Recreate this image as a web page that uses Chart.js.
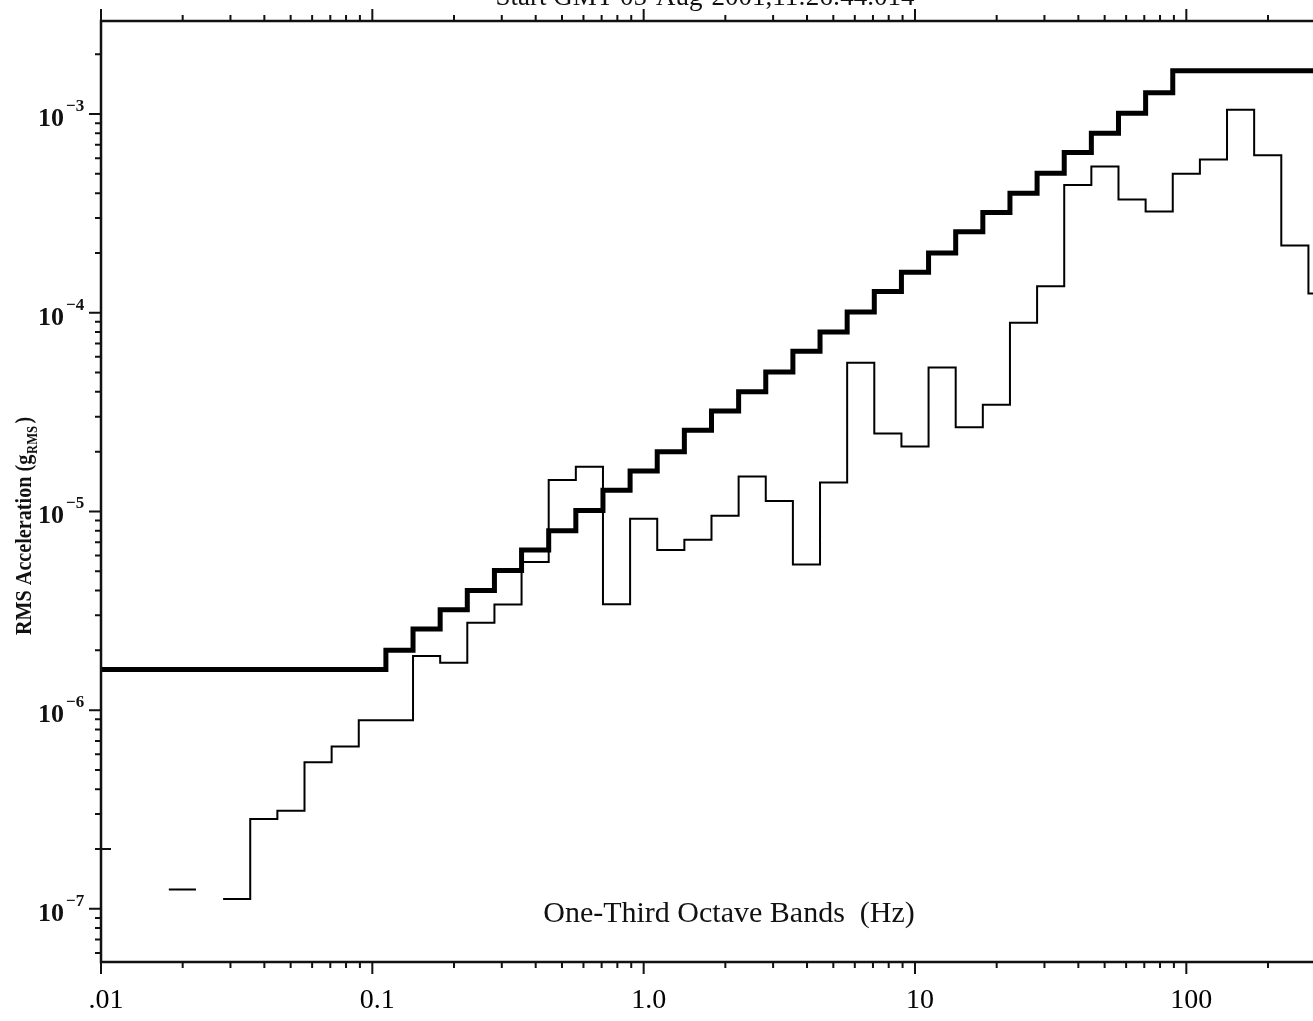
<!DOCTYPE html>
<html>
<head>
<meta charset="utf-8">
<title>RMS Acceleration - One-Third Octave Bands</title>
<script src="https://cdn.jsdelivr.net/npm/chart.js@4.4.1/dist/chart.umd.min.js"></script>
<style>
  html, body { margin: 0; padding: 0; background: #fff; }
  canvas { display: block; }
</style>
</head>
<body>
<canvas id="octaveChart" width="1313" height="1021"></canvas>
<script>
// one-third octave band centre frequencies (Hz)
const bandCenters = [
  0.01, 0.0125, 0.016, 0.02, 0.025, 0.0315, 0.04, 0.05, 0.063, 0.08,
  0.1, 0.125, 0.16, 0.2, 0.25, 0.315, 0.4, 0.5, 0.63, 0.8,
  1.0, 1.25, 1.6, 2.0, 2.5, 3.15, 4.0, 5.0, 6.3, 8.0,
  10, 12.5, 16, 20, 25, 31.5, 40, 50, 63, 80,
  100, 125, 160, 200, 250, 315
];

// requirement curve (thick line), g RMS
const requirement = [
  1.6e-6, 1.6e-6, 1.6e-6, 1.6e-6, 1.6e-6, 1.6e-6, 1.6e-6, 1.6e-6, 1.6e-6, 1.6e-6,
  1.6e-6, 2.0e-6, 2.56e-6, 3.2e-6, 4.0e-6, 5.04e-6, 6.4e-6, 8.0e-6, 1.01e-5, 1.28e-5,
  1.6e-5, 2.0e-5, 2.56e-5, 3.2e-5, 4.0e-5, 5.04e-5, 6.4e-5, 8.0e-5, 1.01e-4, 1.28e-4,
  1.6e-4, 2.0e-4, 2.56e-4, 3.2e-4, 4.0e-4, 5.04e-4, 6.4e-4, 8.0e-4, 1.01e-3, 1.28e-3,
  1.65e-3, 1.65e-3, 1.65e-3, 1.65e-3, 1.65e-3, 1.65e-3
];

// measured levels (thin line), null where no band value was plotted
const measured = [
  null, null, null, 1.25e-7, null, 1.12e-7, 2.83e-7, 3.12e-7, 5.47e-7, 6.56e-7,
  8.9e-7, 8.9e-7, 1.87e-6, 1.73e-6, 2.75e-6, 3.4e-6, 5.56e-6, 1.44e-5, 1.68e-5, 3.41e-6,
  9.2e-6, 6.4e-6, 7.2e-6, 9.5e-6, 1.5e-5, 1.13e-5, 5.4e-6, 1.4e-5, 5.6e-5, 2.47e-5,
  2.12e-5, 5.3e-5, 2.65e-5, 3.44e-5, 8.9e-5, 1.36e-4, 4.4e-4, 5.45e-4, 3.71e-4, 3.23e-4,
  5.0e-4, 5.9e-4, 1.05e-3, 6.2e-4, 2.18e-4, 1.25e-4
];

const xTickValues = [0.01, 0.1, 1, 10, 100];
const xTickLabels = ['.01', '0.1', '1.0', '10', '100'];
const yTickValues = [1e-7, 1e-6, 1e-5, 1e-4, 1e-3];
const yTickExps = ['\u22127', '\u22126', '\u22125', '\u22124', '\u22123'];

const serif = '"Liberation Serif", "Times New Roman", serif';

// each band becomes a flat segment between its lower and upper edge
function bandSteps(values) {
  const pts = [];
  bandCenters.forEach((c, i) => {
    const n = Math.round(10 * Math.log10(c));
    const lo = Math.pow(10, (n - 0.5) / 10);
    const hi = Math.pow(10, (n + 0.5) / 10);
    pts.push({ x: lo, y: values[i] }, { x: hi, y: values[i] });
  });
  return pts;
}

// frame, tick marks, y labels and loose texts
const framePlugin = {
  id: 'frame',
  afterDraw(chart) {
    const { ctx, chartArea: a, scales: { x, y } } = chart;
    ctx.save();
    ctx.strokeStyle = '#111';
    ctx.fillStyle = '#111';

    ctx.lineWidth = 2.5;
    ctx.beginPath();
    ctx.moveTo(a.right, a.top);
    ctx.lineTo(a.left, a.top);
    ctx.lineTo(a.left, a.bottom);
    ctx.lineTo(a.right, a.bottom);
    ctx.stroke();

    ctx.lineWidth = 2;
    ctx.beginPath();
    for (let e = -2; e <= 2; e++) {
      for (let m = 1; m <= 9; m++) {
        const v = m * Math.pow(10, e);
        if (v < x.min || v > x.max) continue;
        const px = x.getPixelForValue(v);
        ctx.moveTo(px, a.bottom);
        ctx.lineTo(px, a.bottom + (m === 1 ? 12 : 6));
        ctx.moveTo(px, a.top);
        ctx.lineTo(px, a.top - (m === 1 ? 12 : 6));
      }
    }
    for (let e = -8; e <= -3; e++) {
      for (let m = 1; m <= 9; m++) {
        const v = m * Math.pow(10, e);
        if (v < y.min || v > y.max) continue;
        const py = y.getPixelForValue(v);
        ctx.moveTo(a.left, py);
        ctx.lineTo(a.left - (m === 1 ? 12 : 6), py);
      }
    }
    // odd inward tick at 2e-7
    const p2 = y.getPixelForValue(2e-7);
    ctx.moveTo(a.left, p2);
    ctx.lineTo(a.left + 10, p2);
    ctx.stroke();

    // y tick labels as 10 with raised exponent
    yTickValues.forEach((v, i) => {
      const py = y.getPixelForValue(v);
      ctx.font = 'bold 26px ' + serif;
      ctx.textAlign = 'right';
      ctx.textBaseline = 'alphabetic';
      ctx.fillText('10', 64, py + 12);
      ctx.font = 'bold 17px ' + serif;
      ctx.textAlign = 'left';
      ctx.fillText(yTickExps[i], 66, py - 3);
    });

    // band caption inside the plot
    ctx.font = '30px ' + serif;
    ctx.textAlign = 'center';
    ctx.fillText('One-Third Octave Bands  (Hz)', 729, 922);

    // title, mostly cut off by the top edge
    ctx.font = '27px ' + serif;
    ctx.fillText('Start GMT 05-Aug-2001,11:26:44.014', 705, 5);

    // y axis title, clipped at the left like the scan
    ctx.beginPath();
    ctx.rect(14, 0, 200, chart.height);
    ctx.clip();
    ctx.translate(31, 635);
    ctx.rotate(-Math.PI / 2);
    ctx.scale(0.84, 1);
    ctx.textAlign = 'left';
    ctx.font = 'bold 24px ' + serif;
    const main = 'RMS Acceleration (g';
    ctx.fillText(main, 0, 0);
    let w = ctx.measureText(main).width + 1;
    ctx.font = 'bold 15px ' + serif;
    ctx.fillText('RMS', w, 6);
    w += ctx.measureText('RMS').width + 3;
    ctx.font = 'bold 24px ' + serif;
    ctx.fillText(')', w, 0);
    ctx.restore();
  }
};

new Chart(document.getElementById('octaveChart'), {
  type: 'line',
  data: {
    datasets: [
      {
        label: 'Requirement',
        data: bandSteps(requirement),
        borderColor: '#000',
        borderWidth: 5,
        pointRadius: 0,
        borderJoinStyle: 'miter',
        spanGaps: false,
      },
      {
        label: 'Measured',
        data: bandSteps(measured),
        borderColor: '#000',
        borderWidth: 2,
        pointRadius: 0,
        borderJoinStyle: 'miter',
        spanGaps: false,
      },
    ],
  },
  options: {
    responsive: false,
    animation: false,
    devicePixelRatio: 1,
    layout: { padding: { top: 21, right: 0, bottom: 0, left: 0 } },
    plugins: { legend: { display: false }, tooltip: { enabled: false } },
    scales: {
      x: {
        type: 'logarithmic',
        min: 0.01,
        max: 293,
        grid: { display: false, drawTicks: false },
        border: { display: false },
        afterBuildTicks: s => { s.ticks = xTickValues.map(v => ({ value: v })); },
        afterFit: s => { s.height = 59; },
        ticks: {
          autoSkip: false,
          maxRotation: 0,
          padding: 22,
          labelOffset: 5,
          color: '#000',
          font: { family: serif, size: 28 },
          callback: (v, i) => xTickLabels[i],
        },
      },
      y: {
        type: 'logarithmic',
        min: 5.4e-8,
        max: 2.94e-3,
        grid: { display: false, drawTicks: false },
        border: { display: false },
        ticks: { display: false },
        afterFit: s => { s.width = 101; },
      },
    },
  },
  plugins: [framePlugin],
});
</script>
</body>
</html>
